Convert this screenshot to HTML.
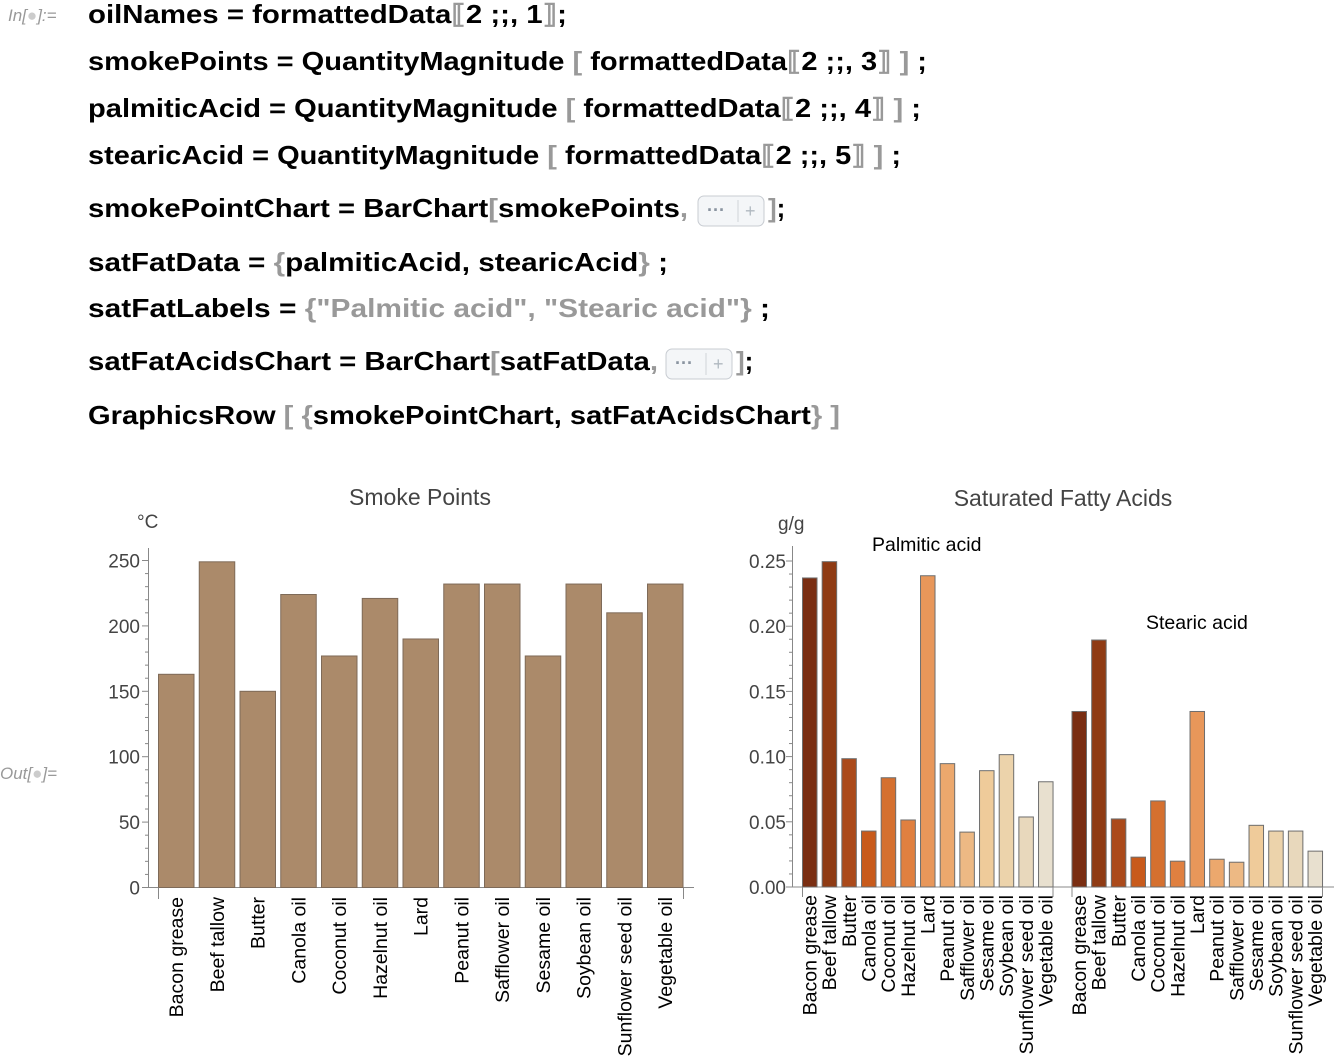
<!DOCTYPE html>
<html><head><meta charset="utf-8"><style>
html,body{margin:0;padding:0;background:#fff;width:1334px;height:1060px;overflow:hidden}
svg{display:block}
.code{font-family:"Liberation Sans",sans-serif;font-weight:bold;font-size:26px;fill:#000}
.g{fill:#999}
.tk{font-family:"Liberation Sans",sans-serif;font-size:19px;fill:#444}
.lb{font-family:"Liberation Sans",sans-serif;font-size:19.5px;fill:#000}
.tt{font-family:"Liberation Sans",sans-serif;font-size:23px;fill:#444}
</style></head><body>
<svg width="1334" height="1060" xmlns="http://www.w3.org/2000/svg">
<text x="8" y="21" font-family="Liberation Sans" font-style="italic" font-size="17" fill="#999">In[<tspan fill="#ccc">●</tspan>]:=</text>
<text x="0" y="779" font-family="Liberation Sans" font-style="italic" font-size="17" fill="#999">Out[<tspan fill="#ccc">●</tspan>]=</text>
<text class="code" x="88" y="23" textLength="479" lengthAdjust="spacingAndGlyphs">oilNames = formattedData<tspan class="g">⟦</tspan>2 ;;, 1<tspan class="g">⟧</tspan>;</text>
<text class="code" x="88" y="70" textLength="839" lengthAdjust="spacingAndGlyphs">smokePoints = QuantityMagnitude <tspan class="g">[</tspan> formattedData<tspan class="g">⟦</tspan>2 ;;, 3<tspan class="g">⟧</tspan> <tspan class="g">]</tspan> ;</text>
<text class="code" x="88" y="117" textLength="833" lengthAdjust="spacingAndGlyphs">palmiticAcid = QuantityMagnitude <tspan class="g">[</tspan> formattedData<tspan class="g">⟦</tspan>2 ;;, 4<tspan class="g">⟧</tspan> <tspan class="g">]</tspan> ;</text>
<text class="code" x="88" y="164" textLength="813" lengthAdjust="spacingAndGlyphs">stearicAcid = QuantityMagnitude <tspan class="g">[</tspan> formattedData<tspan class="g">⟦</tspan>2 ;;, 5<tspan class="g">⟧</tspan> <tspan class="g">]</tspan> ;</text>
<text class="code" x="88" y="217" textLength="600" lengthAdjust="spacingAndGlyphs">smokePointChart = BarChart<tspan class="g">[</tspan>smokePoints<tspan class="g">,</tspan></text>
<rect x="698" y="196" width="66" height="30" rx="6" fill="#f4f6f8" stroke="#c8ccd2"/>
<text x="707" y="216" font-family="Liberation Sans" font-size="18" fill="#8a94a0" font-weight="bold">···</text>
<line x1="738" y1="200" x2="738" y2="222" stroke="#d0d4d8"/>
<text x="745" y="217" font-family="Liberation Sans" font-size="18" fill="#b0b8c0">+</text>
<text class="code" x="768" y="217"><tspan class="g">]</tspan>;</text>
<text class="code" x="88" y="271" textLength="580" lengthAdjust="spacingAndGlyphs">satFatData = <tspan class="g">{</tspan>palmiticAcid, stearicAcid<tspan class="g">}</tspan> ;</text>
<text class="code" x="88" y="317" textLength="682" lengthAdjust="spacingAndGlyphs">satFatLabels = <tspan class="g">{"Palmitic acid", "Stearic acid"}</tspan> ;</text>
<text class="code" x="88" y="370" textLength="570" lengthAdjust="spacingAndGlyphs">satFatAcidsChart = BarChart<tspan class="g">[</tspan>satFatData<tspan class="g">,</tspan></text>
<rect x="666" y="349" width="66" height="30" rx="6" fill="#f4f6f8" stroke="#c8ccd2"/>
<text x="675" y="369" font-family="Liberation Sans" font-size="18" fill="#8a94a0" font-weight="bold">···</text>
<line x1="706" y1="353" x2="706" y2="375" stroke="#d0d4d8"/>
<text x="713" y="370" font-family="Liberation Sans" font-size="18" fill="#b0b8c0">+</text>
<text class="code" x="736" y="370"><tspan class="g">]</tspan>;</text>
<text class="code" x="88" y="424" textLength="752" lengthAdjust="spacingAndGlyphs">GraphicsRow <tspan class="g">[</tspan> <tspan class="g">{</tspan>smokePointChart, satFatAcidsChart<tspan class="g">}</tspan> <tspan class="g">]</tspan></text>

<text class="tt" x="420" y="505" text-anchor="middle">Smoke Points</text>
<text class="tt" x="1063" y="506" text-anchor="middle">Saturated Fatty Acids</text>
<text class="tk" x="137" y="528">°C</text>
<text class="tk" x="778" y="530">g/g</text>
<text class="lb" x="872" y="551">Palmitic acid</text>
<text class="lb" x="1146" y="629">Stearic acid</text>
<g id="left"></g>
<g id="right"></g>
</svg>
<script>
var NS="http://www.w3.org/2000/svg";
function el(p,t,a,txt){var e=document.createElementNS(NS,t);for(var k in a)e.setAttribute(k,a[k]);if(txt!=null)e.textContent=txt;p.appendChild(e);return e;}
var names=["Bacon grease","Beef tallow","Butter","Canola oil","Coconut oil","Hazelnut oil","Lard","Peanut oil","Safflower oil","Sesame oil","Soybean oil","Sunflower seed oil","Vegetable oil"];
var L=document.getElementById("left");
var y0=887.5,sc=327/250;
var sp=[163,249,150,224,177,221,190,232,232,177,232,210,232];
el(L,"line",{x1:148.5,y1:548,x2:148.5,y2:y0,stroke:"#888"});
el(L,"line",{x1:148,y1:y0,x2:694,y2:y0,stroke:"#888"});
for(var v=0;v<=250;v+=10){var y=y0-v*sc;var maj=v%50==0;el(L,"line",{x1:maj?142:145,y1:y,x2:148.5,y2:y,stroke:"#888"});if(maj)el(L,"text",{"class":"tk",x:140,y:y+7,"text-anchor":"end"},String(v));}
for(var i=0;i<13;i++){var x=158+i*40.75;var h=sp[i]*sc;el(L,"rect",{x:x+.5,y:y0-h,width:35.5,height:h,fill:"#ab8a6a",stroke:"#7e6a58","stroke-width":1});
var cx=x+18;el(L,"text",{"class":"lb",x:0,y:0,"text-anchor":"end",transform:"translate("+(cx+7)+",897) rotate(-90)"},names[i]);}
el(L,"line",{x1:158.5,y1:y0,x2:158.5,y2:899,stroke:"#888"});
el(L,"line",{x1:683.5,y1:y0,x2:683.5,y2:899,stroke:"#888"});
var R=document.getElementById("right");
var ry0=887,rsc=326/0.25;
var pal=[0.237,0.2495,0.0984,0.0429,0.0838,0.0514,0.2387,0.0946,0.0421,0.0892,0.1015,0.0537,0.0807];
var ste=[0.1346,0.1894,0.0522,0.0229,0.066,0.0198,0.1346,0.0213,0.019,0.0473,0.0429,0.0429,0.0275];
var col=["#7a2e12","#8f3b14","#ab4a1b","#c85a1b","#d5702f","#e08040","#e8975a","#eca86d","#edb984","#efcb9a","#ecd3ab","#e8d8bc","#e8e0cf"];
el(R,"line",{x1:792.5,y1:546,x2:792.5,y2:ry0,stroke:"#888"});
el(R,"line",{x1:792,y1:ry0,x2:1334,y2:ry0,stroke:"#888"});
for(var k=0;k<=25;k++){var v2=k*0.01;var y=ry0-v2*rsc;var maj=k%5==0;el(R,"line",{x1:maj?786:789,y1:y,x2:792.5,y2:y,stroke:"#888"});if(maj)el(R,"text",{"class":"tk",x:786,y:y+7,"text-anchor":"end"},v2.toFixed(2));}
[[802.5,pal],[1072,ste]].forEach(function(g){var bx=g[0];
for(var i=0;i<13;i++){var x=bx+i*19.67;var h=g[1][i]*rsc;el(R,"rect",{x:x,y:ry0-h,width:14.5,height:h,fill:col[i],stroke:"#6e6e6e","stroke-width":1});
el(R,"text",{"class":"lb",x:0,y:0,"text-anchor":"end",transform:"translate("+(x+14)+",895) rotate(-90)"},names[i]);}
el(R,"line",{x1:bx,y1:ry0,x2:bx,y2:897,stroke:"#888"});el(R,"line",{x1:bx+250.5,y1:ry0,x2:bx+250.5,y2:897,stroke:"#888"});});
</script>
</body></html>
